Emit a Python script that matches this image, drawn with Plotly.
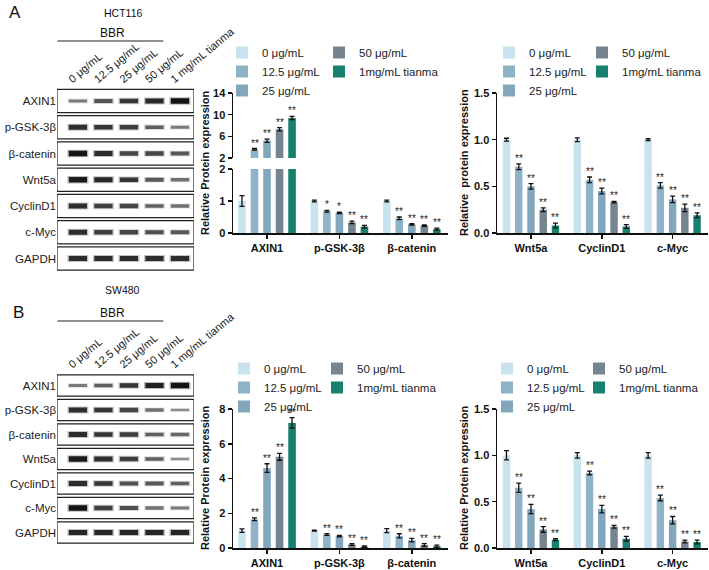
import plotly.graph_objects as go

FONT = "Liberation Sans, Arial, sans-serif"
W, H = 709, 570

# ---------------- data ----------------
series = ["0 μg/mL", "12.5 μg/mL", "25 μg/mL", "50 μg/mL", "1mg/mL tianma"]
colors = ["#c8e3ee", "#8fb3c6", "#82a6bb", "#75848f", "#17806f"]

cats_a = ["AXIN1", "p-GSK-3β", "β-catenin"]
cats_b = ["Wnt5a", "CyclinD1", "c-Myc"]

# HCT116 - AXIN1 / p-GSK-3β / β-catenin (rows = series)
hct_a_mean = [[1.0, 1.0, 1.0], [3.6, 0.68, 0.46], [5.2, 0.63, 0.27], [7.3, 0.33, 0.23], [9.4, 0.20, 0.12]]
hct_a_err = [[0.17, 0.03, 0.03], [0.15, 0.03, 0.04], [0.3, 0.02, 0.02], [0.3, 0.04, 0.02], [0.3, 0.04, 0.03]]
hct_a_sig = [["", "", ""], ["**", "*", "**"], ["**", "*", "**"], ["**", "**", "**"], ["**", "**", "**"]]

# HCT116 - Wnt5a / CyclinD1 / c-Myc
hct_b_mean = [[1.0, 1.0, 1.0], [0.71, 0.57, 0.51], [0.50, 0.45, 0.36], [0.25, 0.33, 0.27], [0.08, 0.07, 0.19]]
hct_b_err = [[0.015, 0.02, 0.01], [0.03, 0.03, 0.03], [0.03, 0.03, 0.035], [0.02, 0.008, 0.04], [0.025, 0.02, 0.025]]

# SW480 - AXIN1 / p-GSK-3β / β-catenin
sw_a_mean = [[1.0, 1.0, 1.0], [1.65, 0.78, 0.70], [4.6, 0.68, 0.45], [5.25, 0.20, 0.17], [7.2, 0.08, 0.10]]
sw_a_err = [[0.1, 0.03, 0.12], [0.08, 0.05, 0.12], [0.25, 0.04, 0.1], [0.2, 0.05, 0.08], [0.3, 0.04, 0.06]]

# SW480 - Wnt5a / CyclinD1 / c-Myc
sw_b_mean = [[1.0, 1.0, 1.0], [0.65, 0.81, 0.54], [0.42, 0.42, 0.30], [0.20, 0.23, 0.07], [0.09, 0.10, 0.065]]
sw_b_err = [[0.05, 0.03, 0.03], [0.05, 0.02, 0.03], [0.05, 0.04, 0.04], [0.03, 0.015, 0.015], [0.01, 0.025, 0.02]]

sig_all = [["", "", ""], ["**", "**", "**"], ["**", "**", "**"], ["**", "**", "**"], ["**", "**", "**"]]

# Western blot band intensities (rows x lanes), 0..1
blot_rows = ["AXIN1", "p-GSK-3β", "β-catenin", "Wnt5a", "CyclinD1", "c-Myc", "GAPDH"]
blot_lanes = ["0 μg/mL", "12.5 μg/mL", "25 μg/mL", "50 μg/mL", "1 mg/mL tianma"]
hct_blot = [
    [0.40, 0.62, 0.80, 0.88, 1.00],
    [0.85, 0.80, 0.75, 0.55, 0.40],
    [1.00, 0.85, 0.70, 0.70, 0.60],
    [0.95, 0.88, 0.80, 0.60, 0.45],
    [0.85, 0.75, 0.70, 0.55, 0.45],
    [0.85, 0.75, 0.70, 0.65, 0.60],
    [0.85, 0.85, 0.85, 0.85, 0.85],
]
sw_blot = [
    [0.40, 0.55, 0.80, 0.92, 1.00],
    [0.85, 0.80, 0.70, 0.45, 0.30],
    [0.85, 0.80, 0.75, 0.55, 0.50],
    [0.95, 0.85, 0.75, 0.55, 0.30],
    [0.85, 0.80, 0.65, 0.60, 0.55],
    [1.00, 0.75, 0.65, 0.45, 0.40],
    [0.90, 0.90, 0.90, 0.90, 0.90],
]

# ---------------- helpers (window pixels -> paper fractions) ----------------
def fx(p):
    return p / W

def fy(p):
    return 1 - p / H

PITCH = 0.173
BARW = 0.105
AXC = "#111111"

fig = go.Figure()
star_annotations = []


def add_bars(means, errs, sigs, xa, ya, legs, showlegend=True, keep=None):
    for s, name in enumerate(series):
        xs = [c + (s - 2) * PITCH for c in range(len(means[s]))]
        fig.add_trace(go.Bar(
            x=xs, y=means[s], width=BARW, name=name,
            marker=dict(color=colors[s], line=dict(width=0)),
            error_y=dict(type="data", array=errs[s], color=AXC, thickness=1.3, width=2.5),
            xaxis=xa, yaxis=ya, legend=legs[0] if s < 3 else legs[1],
            showlegend=showlegend, hoverinfo="skip"))
        for i in range(len(xs)):
            t = sigs[s][i]
            if t and (keep is None or keep(means[s][i])):
                star_annotations.append(dict(
                    text=t, x=xs[i], y=means[s][i] + errs[s][i], xref=xa, yref=ya,
                    showarrow=False, xanchor="center", yanchor="bottom", yshift=-2,
                    font=dict(family=FONT, size=10, color="#222222")))


def add_blot(data, xa, ya):
    # 'line-ew' markers are drawn 1.4 x size long
    xs, ys, wl, cl, wh, ch = [], [], [], [], [], []
    for r, row in enumerate(data):
        for l, v in enumerate(row):
            xs.append(l); ys.append(r)
            g = int(20 + (1 - v) * 170)
            wl.append(1.5 + 4.0 * v)
            cl.append(f"rgb({g},{g},{g})")
            gh = int(min(255, g + 80))
            wh.append(3.0 + 4.5 * v)
            ch.append(f"rgba({gh},{gh},{gh},0.45)")
    fig.add_trace(go.Scatter(
        x=xs, y=ys, mode="markers", xaxis=xa, yaxis=ya, showlegend=False, hoverinfo="skip",
        marker=dict(symbol="line-ew", size=15, line=dict(width=wh, color=ch))))
    fig.add_trace(go.Scatter(
        x=xs, y=ys, mode="markers", xaxis=xa, yaxis=ya, showlegend=False, hoverinfo="skip",
        marker=dict(symbol="line-ew", size=13, line=dict(width=wl, color=cl))))


# ---------------- traces ----------------
# top middle: broken axis (lower x/y, upper x2/y2)
add_bars(hct_a_mean, hct_a_err, hct_a_sig, "x", "y", ("legend", "legend2"), True, keep=lambda m: m <= 2)
add_bars(hct_a_mean, hct_a_err, hct_a_sig, "x2", "y2", ("legend", "legend2"), False, keep=lambda m: m > 2)
# top right
add_bars(hct_b_mean, hct_b_err, sig_all, "x3", "y3", ("legend3", "legend4"))
# bottom middle
add_bars(sw_a_mean, sw_a_err, sig_all, "x4", "y4", ("legend5", "legend6"))
# bottom right
add_bars(sw_b_mean, sw_b_err, sig_all, "x5", "y5", ("legend7", "legend8"))
# blots
add_blot(hct_blot, "x6", "y6")
add_blot(sw_blot, "x7", "y7")

# ---------------- axes ----------------
tickfont = dict(family=FONT, size=11, color=AXC, weight="bold")
base_ax = dict(showline=True, linecolor=AXC, linewidth=1.5, ticks="outside", ticklen=4,
               tickwidth=1.5, tickcolor=AXC, showgrid=False, zeroline=False, tickfont=tickfont,
               fixedrange=True, automargin=False)

XMID = [fx(233), fx(448)]
XRGT = [fx(497), fx(708)]
RMID = [-0.47, 2.5]
RRGT = [-0.48, 2.5]

layout_axes = dict(
    xaxis=dict(base_ax, domain=XMID, range=RMID, anchor="y", tickvals=[0, 1, 2], ticktext=cats_a),
    yaxis=dict(base_ax, domain=[fy(233), fy(169)], range=[0, 2], anchor="x", tickvals=[0, 1, 2]),
    xaxis2=dict(domain=XMID, range=RMID, anchor="y2", visible=False, fixedrange=True),
    yaxis2=dict(base_ax, domain=[fy(158), fy(93)], range=[2, 14], anchor="x2", tickvals=[2, 6, 10, 14]),
    xaxis3=dict(base_ax, domain=XRGT, range=RRGT, anchor="y3", tickvals=[0, 1, 2], ticktext=cats_b),
    yaxis3=dict(base_ax, domain=[fy(233), fy(93)], range=[0, 1.5], anchor="x3",
                tickvals=[0, 0.5, 1.0, 1.5], tickformat=".1f"),
    xaxis4=dict(base_ax, domain=XMID, range=RMID, anchor="y4", tickvals=[0, 1, 2], ticktext=cats_a),
    yaxis4=dict(base_ax, domain=[fy(548), fy(409)], range=[0, 8], anchor="x4", tickvals=[0, 2, 4, 6, 8]),
    xaxis5=dict(base_ax, domain=XRGT, range=RRGT, anchor="y5", tickvals=[0, 1, 2], ticktext=cats_b),
    yaxis5=dict(base_ax, domain=[fy(548), fy(409)], range=[0, 1.5], anchor="x5",
                tickvals=[0, 0.5, 1.0, 1.5], tickformat=".1f"),
)

LANE_RANGE = [-0.82, 4.55]
blot_x = dict(range=LANE_RANGE, side="top", tickvals=list(range(5)), ticktext=blot_lanes,
              tickangle=-40, ticks="", ticklen=0, ticklabelshift=-9, showline=False, showgrid=False,
              zeroline=False, tickfont=dict(family=FONT, size=11, color="#222"), fixedrange=True,
              automargin=False)
blot_y = dict(range=[6.5, -0.5], tickvals=list(range(7)), ticktext=blot_rows, ticks="", ticklen=0,
              showline=False, showgrid=False, zeroline=False,
              tickfont=dict(family=FONT, size=11.5, color="#222"), fixedrange=True, automargin=False)
layout_axes["xaxis6"] = dict(blot_x, domain=[fx(57), fx(194)], anchor="y6")
layout_axes["yaxis6"] = dict(blot_y, domain=[fy(271.6), fy(87.9)], anchor="x6")
layout_axes["xaxis7"] = dict(blot_x, domain=[fx(57), fx(194)], anchor="y7")
layout_axes["yaxis7"] = dict(blot_y, domain=[fy(544.75), fy(373.25)], anchor="x7")

# ---------------- legends ----------------
legfont = dict(family=FONT, size=11.5, color="#222")
def leg(xc, yrow):
    return dict(x=fx(xc - 20), y=fy(yrow - 13), xanchor="left", yanchor="top",
                bgcolor="rgba(0,0,0,0)", font=legfont, tracegroupgap=0, orientation="v")

legends = dict(
    legend=leg(242, 51), legend2=leg(339, 51),
    legend3=leg(509, 51), legend4=leg(602, 51),
    legend5=leg(244, 367), legend6=leg(337, 367),
    legend7=leg(507, 367), legend8=leg(599, 367),
)

# ---------------- shapes / annotations ----------------
shapes = []
for xa, ya, half in (("x6", "y6", 0.44), ("x7", "y7", 0.43)):
    for r in range(len(blot_rows)):
        shapes.append(dict(type="rect", xref=xa, yref=ya, x0=LANE_RANGE[0], x1=LANE_RANGE[1],
                           y0=r - half, y1=r + half, line=dict(color="#222", width=1.2),
                           fillcolor="white", layer="below"))
for ybbr, xa in ((41, "x6"), (321, "x7")):
    shapes.append(dict(type="line", xref=xa, yref="paper", x0=-0.8, x1=3.35, y0=fy(ybbr), y1=fy(ybbr),
                       line=dict(color="#222", width=1.2)))

def ann(text, x, y, size=11, bold=False, angle=0):
    return dict(text=text, x=fx(x), y=fy(y), xref="paper", yref="paper", showarrow=False,
                xanchor="center", yanchor="middle", textangle=angle,
                font=dict(family=FONT, size=size, color="#111", weight="bold" if bold else "normal"))

annotations = [
    ann("A", 15, 13, size=17),
    ann("B", 18, 312, size=17),
    ann("HCT116", 123, 13, size=10.5),
    ann("SW480", 122, 290, size=10.5),
    ann("BBR", 112, 33, size=12),
    ann("BBR", 112, 313, size=12),
    ann("Relative Protein expression", 205, 163, size=11, bold=True, angle=-90),
    ann("Relative\u00a0 protein expression", 464, 163, size=11, bold=True, angle=-90),
    ann("Relative Protein expression", 205, 478, size=11, bold=True, angle=-90),
    ann("Relative Protein expression", 464, 478, size=11, bold=True, angle=-90),
] + star_annotations

fig.update_layout(
    width=W, height=H, margin=dict(l=0, r=0, t=0, b=0, autoexpand=False),
    paper_bgcolor="white", plot_bgcolor="white",
    barmode="overlay", font=dict(family=FONT, color="#111"),
    shapes=shapes, annotations=annotations,
    **layout_axes, **legends,
)

# let the 709x570 figure start at the window corner (drop the default 8px body margin)
fig.write_html("out.html",
               config={"displayModeBar": False, "staticPlot": True},
               post_script="document.body.style.margin='0px';document.body.style.overflow='hidden';")
